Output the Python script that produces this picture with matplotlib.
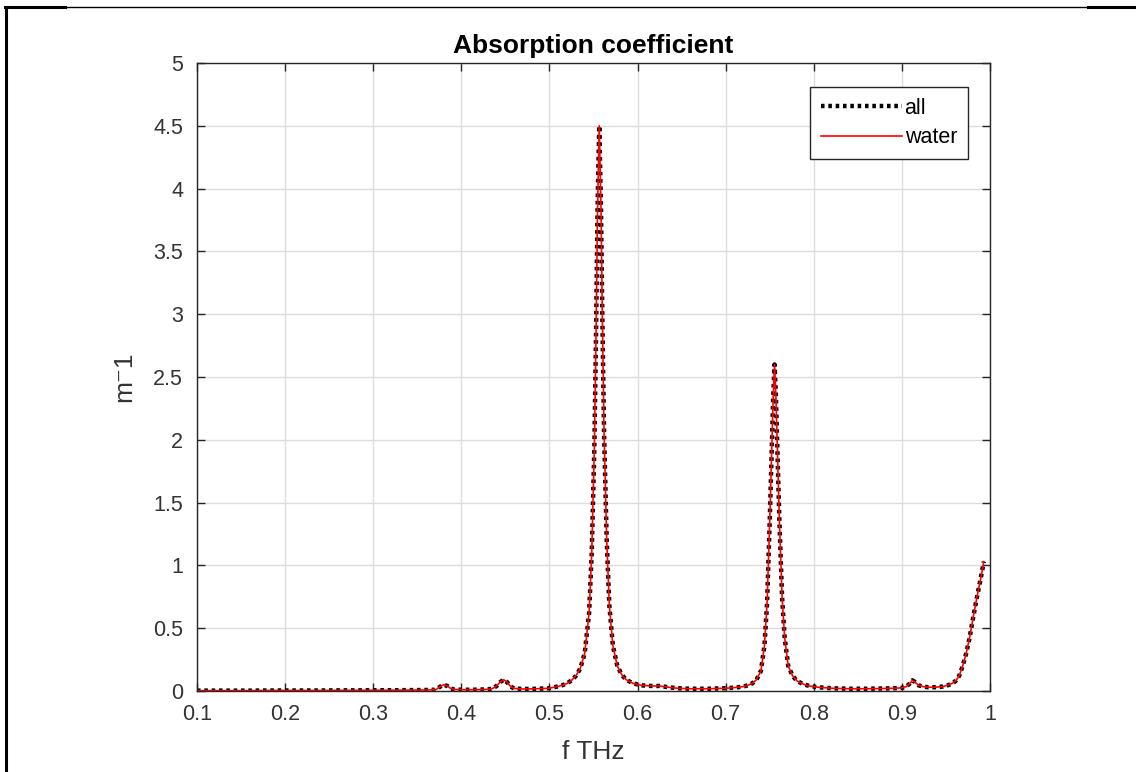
import numpy as np
import matplotlib
matplotlib.use('Agg')
from matplotlib import pyplot as plt
from matplotlib.lines import Line2D

plt.rcParams['font.family'] = ['Liberation Sans', 'DejaVu Sans']

# frequency samples (THz)
freq_thz = [0.10, 0.12, 0.14, 0.16, 0.18, 0.20, 0.22, 0.24, 0.26, 0.28,
            0.30, 0.32, 0.34, 0.36, 0.37,
            0.372, 0.376, 0.380, 0.384, 0.388, 0.392, 0.40, 0.41, 0.42, 0.43,
            0.435, 0.440, 0.444, 0.448, 0.452, 0.456, 0.460, 0.47, 0.48, 0.49,
            0.50,
            0.505, 0.51, 0.515, 0.52, 0.525, 0.53, 0.535, 0.54, 0.545, 0.548,
            0.551, 0.553, 0.5545, 0.5565, 0.5585, 0.560, 0.562, 0.565, 0.568,
            0.572, 0.577, 0.582, 0.587, 0.595, 0.605, 0.615, 0.625, 0.635,
            0.645, 0.66, 0.68, 0.70, 0.71, 0.72,
            0.725, 0.73, 0.735, 0.740, 0.744, 0.747, 0.750, 0.752, 0.754,
            0.7555, 0.757, 0.759, 0.761, 0.764, 0.767, 0.771, 0.776, 0.781,
            0.788, 0.795, 0.805, 0.82, 0.84, 0.86, 0.88, 0.89, 0.90,
            0.905, 0.909, 0.912, 0.915, 0.919, 0.924, 0.93, 0.938, 0.946,
            0.952, 0.957, 0.961, 0.965, 0.969, 0.973, 0.977, 0.981, 0.985,
            0.989, 0.993]

# absorption coefficient, all gases (m^-1)
alpha_all = [0.003, 0.003, 0.003, 0.003, 0.004, 0.004, 0.004, 0.004, 0.005, 0.005,
             0.006, 0.006, 0.007, 0.008, 0.010,
             0.015, 0.035, 0.050, 0.040, 0.020, 0.012, 0.010, 0.010, 0.011, 0.013,
             0.018, 0.040, 0.070, 0.090, 0.070, 0.035, 0.020, 0.016, 0.017, 0.019,
             0.022,
             0.030, 0.037, 0.047, 0.060, 0.085, 0.12, 0.18, 0.30, 0.62, 1.10,
             1.95, 2.9, 3.8, 4.5, 3.85, 3.0, 2.05, 1.2, 0.68,
             0.36, 0.20, 0.13, 0.09, 0.06, 0.045, 0.04, 0.04, 0.03,
             0.022, 0.018, 0.018, 0.022, 0.027, 0.035,
             0.045, 0.06, 0.09, 0.16, 0.36, 0.70, 1.35, 1.85, 2.35,
             2.6, 2.35, 1.85, 1.35, 0.75, 0.42, 0.20, 0.12, 0.08,
             0.055, 0.04, 0.03, 0.022, 0.018, 0.018, 0.020, 0.022, 0.025,
             0.035, 0.06, 0.085, 0.07, 0.045, 0.035, 0.03, 0.03, 0.035,
             0.045, 0.06, 0.08, 0.12, 0.20, 0.30, 0.43, 0.59, 0.74,
             0.88, 1.03]

# water vapour contribution (overlaps "all")
alpha_water = list(alpha_all)

xticks = [0.1, 0.2, 0.3, 0.4, 0.5, 0.6, 0.7, 0.8, 0.9, 1]
yticks = [0, 0.5, 1, 1.5, 2, 2.5, 3, 3.5, 4, 4.5, 5]

fig = plt.figure(figsize=(11.36, 7.72), dpi=100)
ax = fig.add_axes([197/1136, 81/772, 793/1136, 628/772])

ax.plot(freq_thz, alpha_all, color='black', lw=3.2, linestyle=(0, (0.8, 0.85)),
        label='all')
ax.plot(freq_thz, alpha_water, color='red', lw=1.2, label='water')

ax.set_xlim(0.1, 1)
ax.set_ylim(0, 5)
ax.set_xticks(xticks)
ax.set_xticklabels([f'{t:g}' for t in xticks])
ax.set_yticks(yticks)
ax.set_yticklabels([f'{t:g}' for t in yticks])

ax.grid(True, color='#dcdcdc', lw=1)
ax.set_axisbelow(True)
for s in ax.spines.values():
    s.set_color('#262626')
    s.set_linewidth(1)
ax.tick_params(direction='in', length=6, width=1, color='#262626',
               labelcolor='#333333', labelsize=15.5, top=True, right=True)
ax.tick_params(axis='x', pad=9)
ax.tick_params(axis='y', pad=10)

ax.set_title('Absorption coefficient', fontsize=19, fontweight='bold',
             color='black', pad=7)
ax.set_xlabel('f THz', fontsize=19, color='#333333', labelpad=11)
ax.set_ylabel('m\u207b1', fontsize=19, color='#333333', labelpad=12)

leg = ax.legend(loc='upper right', bbox_to_anchor=(0.972, 0.962), fontsize=15.5,
                handlelength=3.8, handletextpad=0.1, borderpad=0.5,
                labelspacing=0.4, borderaxespad=0, fancybox=False, framealpha=1)
leg.get_frame().set_edgecolor('#262626')
leg.get_frame().set_linewidth(1)

# screenshot frame lines
fig.add_artist(Line2D([5/1136, 1], [1 - 7/772, 1 - 7/772], color='black', lw=1))
fig.add_artist(Line2D([5/1136, 65/1136], [1 - 7/772, 1 - 7/772], color='black', lw=2.2))
fig.add_artist(Line2D([1088/1136, 1], [1 - 7/772, 1 - 7/772], color='black', lw=2.2))
fig.add_artist(Line2D([6/1136, 6/1136], [0, 1 - 7/772], color='black', lw=2.2))

fig.savefig('out.png', dpi=100)
